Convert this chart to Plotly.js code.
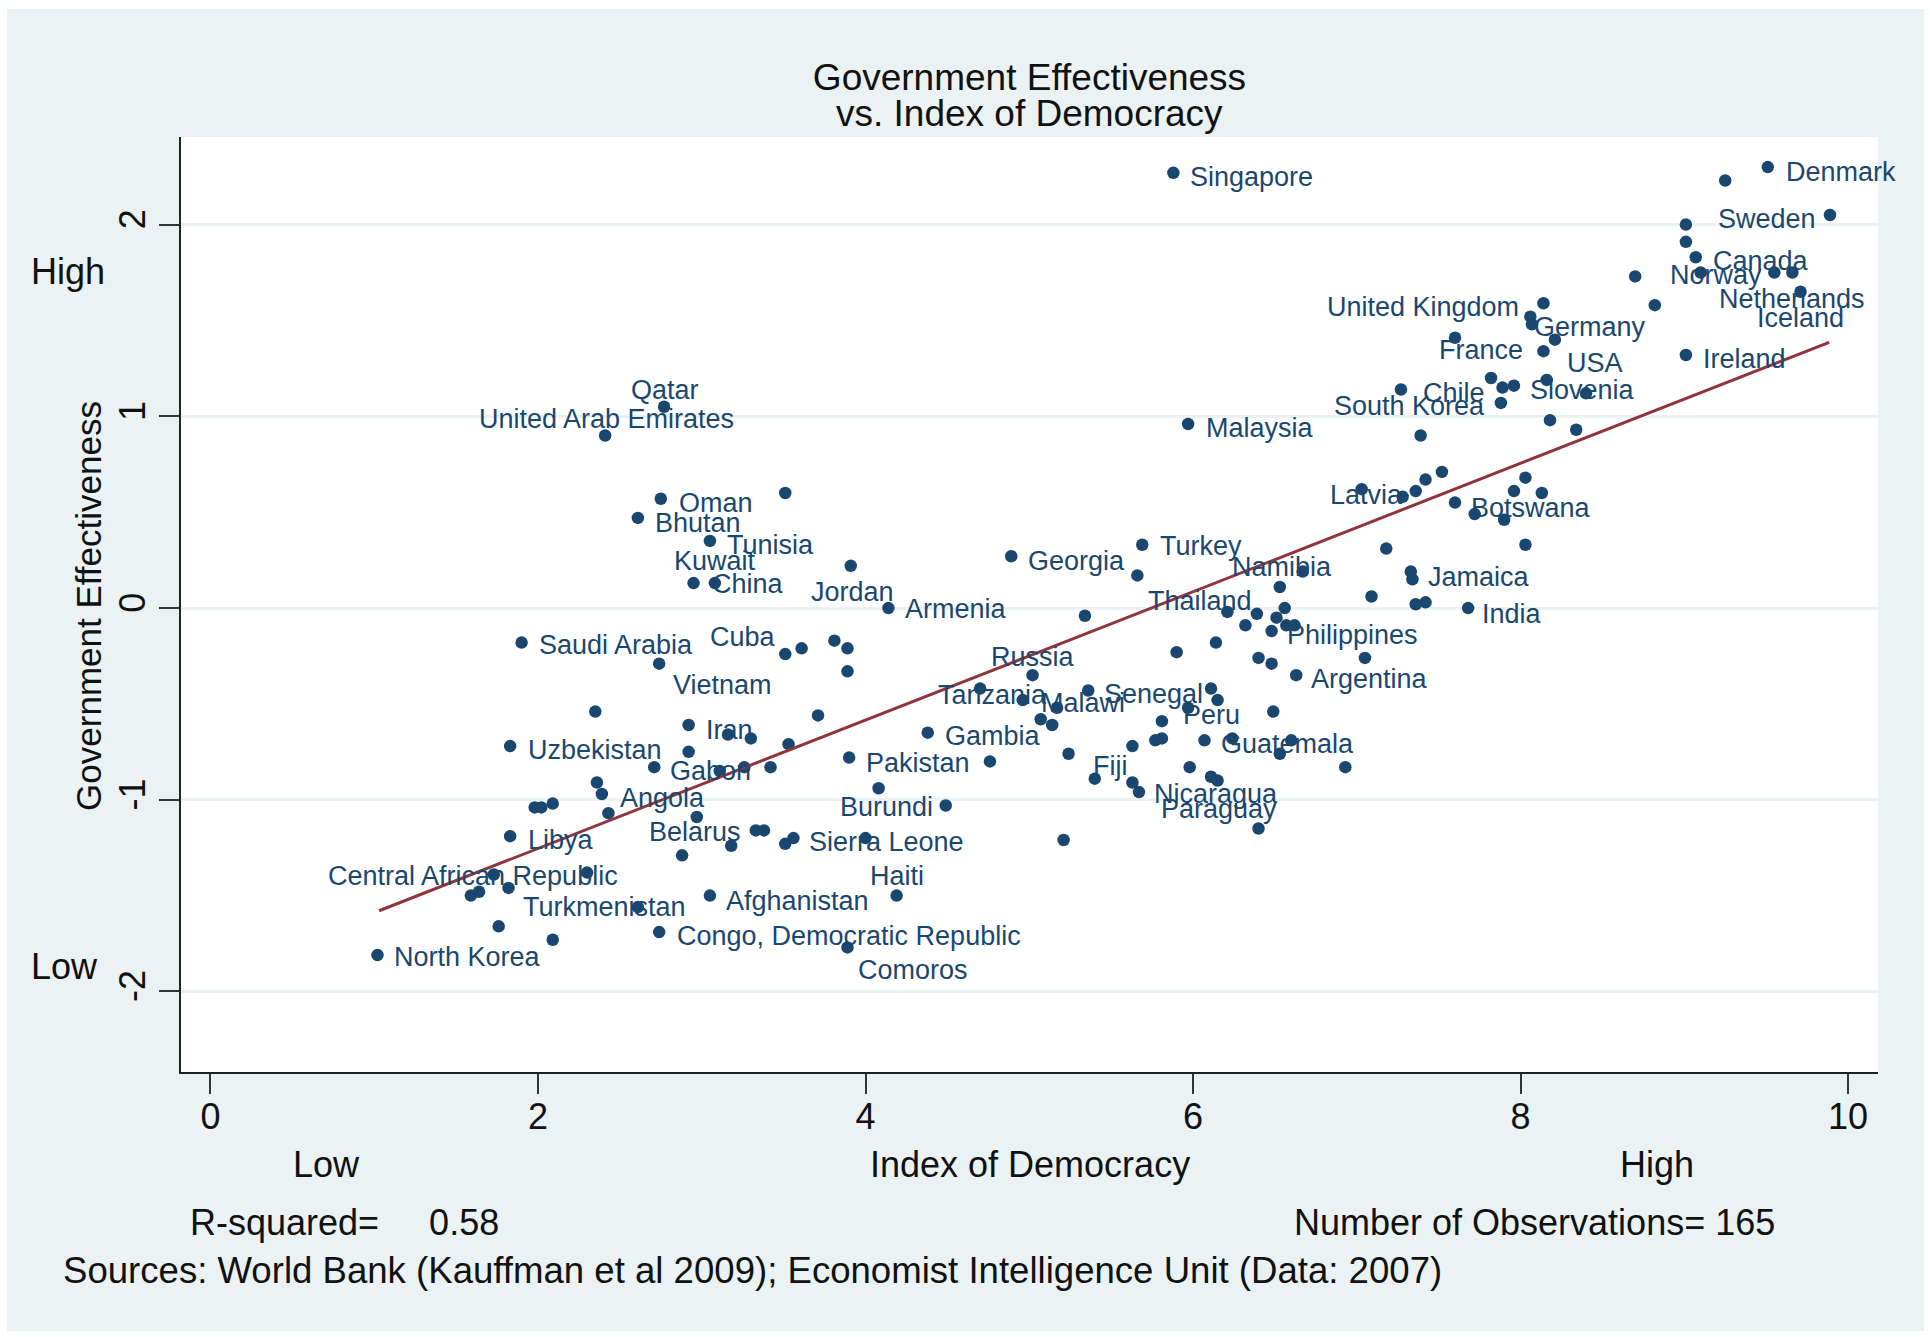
<!DOCTYPE html>
<html>
<head>
<meta charset="utf-8">
<script src="https://cdn.plot.ly/plotly-3.0.1.min.js"></script>
<style>
  html, body { margin:0; padding:0; background:#FFFFFF; }
  #chart { position:absolute; left:7px; top:9px; width:1917px; height:1322px; }
</style>
</head>
<body>
<div id="chart"></div>
<script>
// ---- Data ----
const labeledNames = ["Singapore","Denmark","Sweden","Canada","Norway","Netherlands","Iceland","United Kingdom","Germany","France","USA","Ireland","Slovenia","Chile","South Korea","Malaysia","Latvia","Botswana","Jamaica","India","Namibia","Thailand","Turkey","Georgia","Philippines","Argentina","Jordan","Armenia","Tunisia","Kuwait","China","Oman","Bhutan","Qatar","United Arab Emirates","Saudi Arabia","Cuba","Vietnam","Iran","Uzbekistan","Gabon","Angola","Libya","Belarus","Central African Republic","Turkmenistan","North Korea","Afghanistan","Congo, Democratic Republic","Comoros","Haiti","Sierra Leone","Burundi","Pakistan","Gambia","Tanzania","Malawi","Russia","Senegal","Peru","Guatemala","Fiji","Nicaragua","Paraguay"];
const labeledDemocracy = [5.88,9.51,9.89,9.07,9.55,9.66,9.71,8.14,8.07,8.14,8.21,9.01,7.96,7.89,7.88,5.97,7.36,7.60,7.34,7.68,6.53,5.66,5.69,4.89,6.48,6.63,3.91,4.14,3.05,3.08,2.95,2.75,2.61,2.77,2.41,1.90,3.51,2.74,2.92,1.83,2.71,2.39,1.83,3.33,1.59,1.82,1.02,3.05,2.74,3.89,4.19,3.56,4.49,3.90,4.38,4.70,4.96,5.02,5.36,6.11,6.07,5.40,6.11,6.15];
const labeledEffectiveness = [2.27,2.30,2.05,1.83,1.75,1.75,1.65,1.59,1.48,1.34,1.40,1.32,1.16,1.15,1.07,0.96,0.61,0.55,0.15,0.00,0.11,0.17,0.33,0.27,-0.12,-0.35,0.22,0.00,0.35,0.13,0.13,0.57,0.47,1.05,0.90,-0.18,-0.24,-0.29,-0.61,-0.72,-0.83,-0.97,-1.19,-1.16,-1.50,-1.46,-1.81,-1.50,-1.69,-1.77,-1.50,-1.20,-1.03,-0.78,-0.65,-0.42,-0.48,-0.35,-0.43,-0.42,-0.69,-0.89,-0.88,-0.90];

const otherDemocracy = [9.25,9.01,9.01,9.10,8.70,8.82,8.06,7.60,7.82,8.16,8.40,7.27,7.39,8.18,8.34,7.52,7.42,7.28,7.03,7.72,7.90,7.96,8.03,8.13,8.03,7.18,7.33,7.09,7.36,7.42,7.05,6.93,3.51,6.67,5.34,3.61,3.81,3.89,3.89,3.71,2.35,3.16,3.30,2.92,3.11,3.26,3.42,3.53,2.36,1.98,2.02,2.09,2.43,2.97,3.18,2.88,1.73,2.30,1.64,2.61,1.76,2.09,4.76,4.08,3.38,3.51,4.00,5.21,5.24,5.17,5.07,5.14,5.90,6.14,6.21,6.39,6.32,6.51,6.56,6.57,6.62,6.40,6.48,6.15,5.97,5.81,6.49,5.77,5.81,5.63,6.24,6.60,6.53,5.98,5.63,5.67,6.40];
const otherEffectiveness = [2.23,2.00,1.91,1.75,1.73,1.58,1.52,1.41,1.20,1.19,1.12,1.14,0.90,0.98,0.93,0.71,0.67,0.58,0.62,0.49,0.46,0.61,0.68,0.60,0.33,0.31,0.19,0.06,0.02,0.03,-0.26,-0.83,0.60,0.19,-0.04,-0.21,-0.17,-0.21,-0.33,-0.56,-0.54,-0.66,-0.68,-0.75,-0.85,-0.83,-0.83,-0.71,-0.91,-1.04,-1.04,-1.02,-1.07,-1.09,-1.24,-1.29,-1.39,-1.38,-1.48,-1.56,-1.66,-1.73,-0.80,-0.94,-1.16,-1.23,-1.20,-1.21,-0.76,-0.52,-0.58,-0.61,-0.23,-0.18,-0.02,-0.03,-0.09,-0.05,0.00,-0.09,-0.09,-0.26,-0.29,-0.48,-0.52,-0.59,-0.54,-0.69,-0.68,-0.72,-0.68,-0.69,-0.76,-0.83,-0.91,-0.96,-1.15];

// Fitted line end points
const fitDemocracy = [1.03, 9.885];
const fitEffectiveness = [-1.579, 1.386];

const xTicks = [0,2,4,6,8,10];
const yTicks = [-2,-1,0,1,2];
const yTickText = ["-2","-1","0","1","2"];

const titleLine1 = "Government Effectiveness";
const titleLine2 = "vs. Index of Democracy";
const xTitle = "Index of Democracy";
const yTitle = "Government Effectiveness";
const rSquaredText = "R-squared=\u00A0\u00A0\u00A0\u00A0 0.58";
const nObsText = "Number of Observations= 165";
const sourceText = "Sources: World Bank (Kauffman et al 2009); Economist Intelligence Unit (Data: 2007)";

// ---- Label placement styles: [xanchor, xshift px, yshift px] ----
const R = (dx, dy) => ["left", dx, dy];
const L = (dx, dy) => ["right", dx, dy];
const C = (dx, dy) => ["center", dx, dy];
const labelStyle = {
  "Singapore":R(15,-4),"Denmark":R(16,-5),"Sweden":L(-12,-4),"Canada":R(15,-4),"Norway":L(-10,-2),
  "Netherlands":C(0,-26),"Iceland":C(0,-26),"United Kingdom":L(-22,-4),"Germany":R(0,-3),"France":L(-18,1),
  "USA":R(10,-23),"Ireland":R(15,-4),"Slovenia":R(14,-4),"Chile":L(-16,-5),"South Korea":L(-14,-3),
  "Malaysia":R(16,-4),"Latvia":L(-11,-4),"Botswana":R(14,-5),"Jamaica":R(14,2),"India":R(12,-6),
  "Namibia":C(2,20),"Thailand":R(9,-26),"Turkey":R(16,-1),"Georgia":R(15,-5),"Philippines":R(13,-4),
  "Argentina":R(13,-4),"Jordan":C(2,-26),"Armenia":R(15,-1),"Tunisia":R(15,-4),"Kuwait":C(0,22),
  "China":R(16,-1),"Oman":R(16,-4),"Bhutan":R(15,-5),"Qatar":C(1,17),"United Arab Emirates":C(1,17),
  "Saudi Arabia":R(15,-2),"Cuba":L(-7,17),"Vietnam":R(12,-21),"Iran":R(15,-5),"Uzbekistan":R(16,-4),
  "Gabon":R(14,-4),"Angola":R(16,-4),"Libya":R(16,-4),"Belarus":L(-13,-2),"Central African Republic":C(2,20),
  "Turkmenistan":R(12,-19),"North Korea":R(14,-2),"Afghanistan":R(14,-5),"Congo, Democratic Republic":R(16,-4),
  "Comoros":R(9,-23),"Haiti":C(0,20),"Sierra Leone":R(14,-4),"Burundi":L(-11,-1),"Pakistan":R(15,-5),
  "Gambia":R(15,-3),"Tanzania":C(12,-6),"Malawi":R(16,-3),"Russia":C(0,18),"Senegal":R(14,-4),
  "Peru":C(0,-26),"Guatemala":R(15,-4),"Fiji":C(16,13),"Nicaragua":C(5,-17),"Paraguay":C(1,-28)
};

const navy = "#1A476F";
const maroon = "#90353B";
const bg = "#EAF2F3";

const traces = [
  {
    x: otherDemocracy, y: otherEffectiveness, type: "scatter", mode: "markers",
    marker: {color: navy, size: 12.5}, hoverinfo: "skip"
  },
  {
    x: labeledDemocracy, y: labeledEffectiveness, text: labeledNames, type: "scatter", mode: "markers",
    marker: {color: navy, size: 12.5}, hoverinfo: "text"
  },
  {
    x: fitDemocracy, y: fitEffectiveness, type: "scatter", mode: "lines",
    line: {color: maroon, width: 3}, hoverinfo: "skip"
  }
];

const annotations = labeledNames.map((name, i) => {
  const s = labelStyle[name] || R(14, -4);
  return {
    x: labeledDemocracy[i], y: labeledEffectiveness[i], xref: "x", yref: "y",
    text: name, showarrow: false, xanchor: s[0], yanchor: "middle",
    xshift: s[1], yshift: s[2],
    font: {size: 27, color: navy, family: "Liberation Sans, Arial, sans-serif"}
  };
});

const fam = "Liberation Sans, Arial, sans-serif";
const big = {size: 36, color: "#111111", family: fam};
annotations.push(
  {xref:"paper", yref:"paper", x:0.5, y:1.0251, text:titleLine2, showarrow:false, xanchor:"center", yanchor:"middle", font:{size:37, color:"#111111", family:fam}},
  {xref:"paper", yref:"paper", x:0.5, y:-0.0988, text:xTitle, showarrow:false, xanchor:"center", yanchor:"middle", font:big},
  {xref:"paper", yref:"paper", x:0.0856, y:-0.0988, text:"Low", showarrow:false, xanchor:"center", yanchor:"middle", font:big},
  {xref:"paper", yref:"paper", x:0.870, y:-0.0988, text:"High", showarrow:false, xanchor:"center", yanchor:"middle", font:big},
  {xref:"paper", yref:"paper", x:-0.0545, y:0.498, text:yTitle, showarrow:false, textangle:-90, xanchor:"center", yanchor:"middle", font:{size:35, color:"#111111", family:fam}},
  {xref:"paper", yref:"y", x:-0.0893, y:1.758, text:"High", showarrow:false, xanchor:"left", yanchor:"middle", font:big},
  {xref:"paper", yref:"y", x:-0.0893, y:-1.868, text:"Low", showarrow:false, xanchor:"left", yanchor:"middle", font:big},
  {xref:"paper", yref:"paper", x:0.0042, y:-0.1607, text:rSquaredText, showarrow:false, xanchor:"left", yanchor:"middle", font:big},
  {xref:"paper", yref:"paper", x:0.9406, y:-0.1607, text:nObsText, showarrow:false, xanchor:"right", yanchor:"middle", font:big},
  {xref:"paper", yref:"paper", x:-0.0705, y:-0.2121, text:sourceText, showarrow:false, xanchor:"left", yanchor:"middle", font:{size:36.6, color:"#111111", family:fam}}
);

const layout = {
  width: 1917, height: 1322,
  paper_bgcolor: bg, plot_bgcolor: "#FFFFFF",
  margin: {l: 174, r: 46, t: 128, b: 259, pad: 0},
  showlegend: false,
  font: {family: fam, color: "#111111"},
  title: {
    text: titleLine1, font: {size: 37, color: "#111111", family: fam},
    xref: "paper", x: 0.5, xanchor: "center",
    yref: "container", y: 1 - 68.5 / 1322, yanchor: "middle"
  },
  xaxis: {
    range: [-0.18, 10.183], tickvals: xTicks, ticks: "outside", ticklen: 20, tickwidth: 2, tickcolor: "#333333",
    showline: true, linecolor: "#222222", linewidth: 2, showgrid: false, zeroline: false,
    tickfont: big, ticklabelstandoff: -8
  },
  yaxis: {
    range: [-2.42, 2.457], tickvals: yTicks, ticktext: yTickText, tickangle: -90,
    ticks: "outside", ticklen: 20, tickwidth: 2, tickcolor: "#333333",
    showline: true, linecolor: "#222222", linewidth: 2,
    showgrid: true, gridcolor: bg, gridwidth: 3, zeroline: false,
    tickfont: big, ticklabelstandoff: 0
  },
  annotations: annotations
};

Plotly.newPlot("chart", traces, layout, {displayModeBar: false, staticPlot: true});
</script>
</body>
</html>
